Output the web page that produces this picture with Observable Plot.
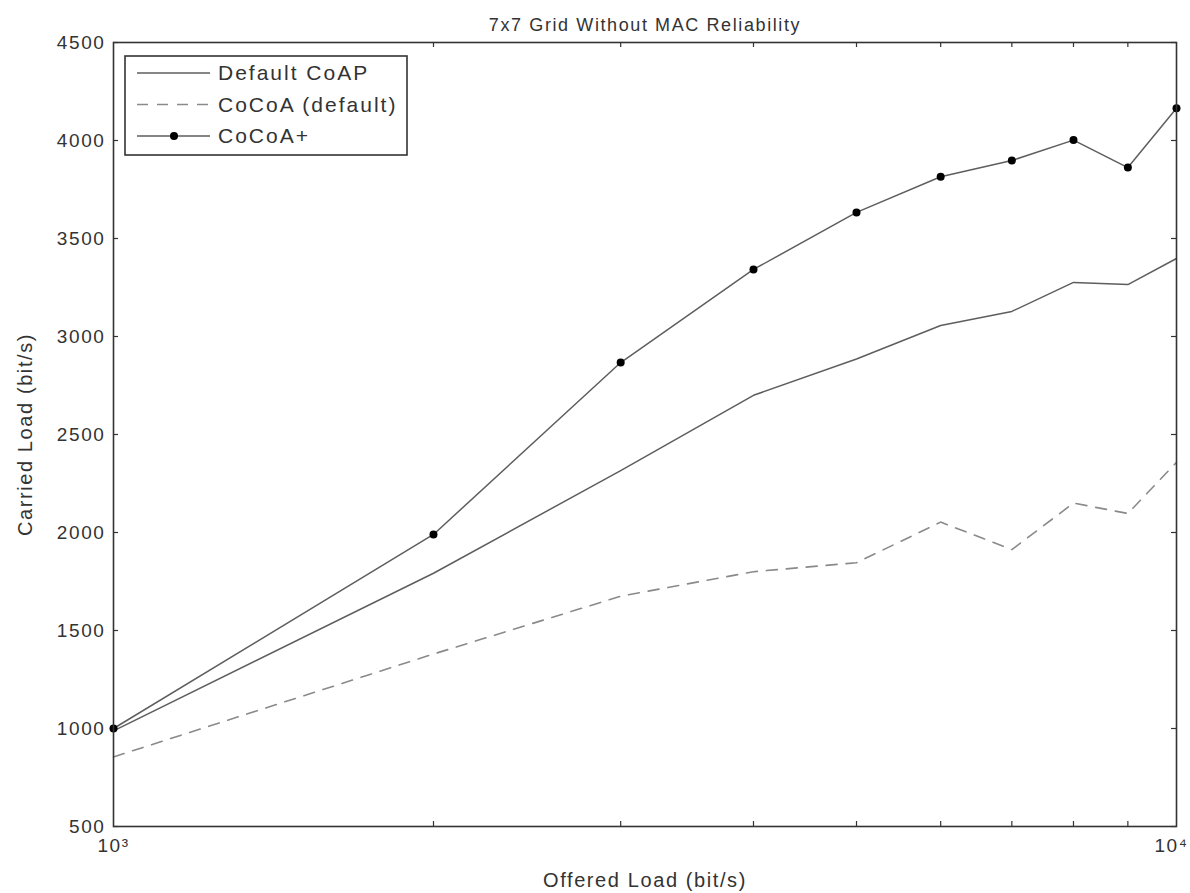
<!DOCTYPE html>
<html>
<head>
<meta charset="utf-8">
<script src="https://cdn.jsdelivr.net/npm/d3@7"></script>
<script src="https://cdn.jsdelivr.net/npm/@observablehq/plot@0.6"></script>
<style>
  html, body { margin: 0; padding: 0; background: #fff; }
  #chart svg { display: block; font-family: "Liberation Sans", Arial, sans-serif; }
  #chart svg text { letter-spacing: 1.6px; }
</style>
</head>
<body>
<div id="chart"></div>
<script>
// ---- data ----
const title = "7x7 Grid Without MAC Reliability";
const xLabel = "Offered Load (bit/s)";
const yLabel = "Carried Load (bit/s)";
const seriesNames = ["Default CoAP", "CoCoA (default)", "CoCoA+"];
const offered = [1000, 2000, 3000, 4000, 5000, 6000, 7000, 8000, 9000, 10000];
const defaultCoap = [988, 1792, 2316, 2700, 2885, 3056, 3128, 3276, 3265, 3398];
const cocoaDefault = [855, 1380, 1675, 1800, 1846, 2053, 1913, 2150, 2097, 2358];
const cocoaPlus = [1000, 1990, 2867, 3342, 3633, 3815, 3898, 4002, 3862, 4165];
const yTicks = [500, 1000, 1500, 2000, 2500, 3000, 3500, 4000, 4500];
const xMajorTicks = [1000, 10000];
const xMajorLabels = ["10\u00B3", "10\u2074"];
const xMinorTicks = [2000, 3000, 4000, 5000, 6000, 7000, 8000, 9000];

// ---- layout ----
const W = 1190, H = 893;
const mL = 113, mR = 14, mT = 42, mB = 67;
const pw = W - mL - mR, ph = H - mT - mB;
const tickLen = 5;

const rows = (vals, name) => offered.map((x, i) => ({x, y: vals[i], series: name}));
const dCoap = rows(defaultCoap, seriesNames[0]);
const dCocoa = rows(cocoaDefault, seriesNames[1]);
const dPlus = rows(cocoaPlus, seriesNames[2]);

const lineGray = "#5e5e5e";
const dashGray = "#8a8a8a";
const textGray = "#333";

const plot = Plot.plot({
  width: W, height: H,
  marginLeft: mL, marginRight: mR, marginTop: mT, marginBottom: mB,
  x: {type: "log", domain: [1000, 10000], label: null},
  y: {domain: [500, 4500], label: null},
  marks: [
    // inward ticks (bottom/top on x, left/right on y)
    Plot.tickX(xMinorTicks, {x: d => d, insetTop: ph - tickLen, stroke: "#333", strokeWidth: 1.2}),
    Plot.tickX(xMinorTicks, {x: d => d, insetBottom: ph - tickLen, stroke: "#333", strokeWidth: 1.2}),
    Plot.tickY(yTicks, {y: d => d, insetRight: pw - tickLen, stroke: "#333", strokeWidth: 1.2}),
    Plot.tickY(yTicks, {y: d => d, insetLeft: pw - tickLen, stroke: "#333", strokeWidth: 1.2}),
    // data
    Plot.line(dCocoa, {x: "x", y: "y", stroke: dashGray, strokeWidth: 1.6, strokeDasharray: "11,9"}),
    Plot.line(dCoap, {x: "x", y: "y", stroke: lineGray, strokeWidth: 1.5}),
    Plot.line(dPlus, {x: "x", y: "y", stroke: lineGray, strokeWidth: 1.5}),
    Plot.dot(dPlus, {x: "x", y: "y", r: 4, fill: "#000", stroke: "none"}),
    // frame
    Plot.frame({stroke: "#333", strokeWidth: 1.6}),
    // axes labels
    Plot.axisY({ticks: yTicks, tickSize: 0, tickPadding: 8, tickFormat: d => String(d), fontSize: 19, fill: textGray, label: null}),
    Plot.axisX({ticks: [xMajorTicks[0]], tickSize: 0, tickPadding: 12, tickFormat: d => xMajorLabels[xMajorTicks.indexOf(d)], fontSize: 19, fill: textGray, label: null}),
    Plot.axisX({ticks: [xMajorTicks[1]], tickSize: 0, tickPadding: 12, dx: -5, tickFormat: d => xMajorLabels[xMajorTicks.indexOf(d)], fontSize: 19, fill: textGray, label: null}),
    Plot.text([title], {frameAnchor: "top", dy: -24, text: d => d, fontSize: 18, fill: textGray}),
    Plot.text([xLabel], {frameAnchor: "bottom", dy: 60, text: d => d, fontSize: 20, fill: textGray}),
    Plot.text([yLabel], {frameAnchor: "left", textAnchor: "middle", dx: -88, rotate: -90, text: d => d, fontSize: 20, fill: textGray})
  ]
});

document.getElementById("chart").appendChild(plot);

// ---- legend (drawn into the same svg) ----
const svg = d3.select(plot);
const lg = svg.append("g").attr("class", "legend");
const lx = mL + 12, ly = mT + 14, lw = 282, lh = 99;
lg.append("rect").attr("x", lx).attr("y", ly).attr("width", lw).attr("height", lh)
  .attr("fill", "#fff").attr("stroke", "#333").attr("stroke-width", 1.6);
const styles = [
  {stroke: lineGray, dash: null, dot: false},
  {stroke: dashGray, dash: "11,9", dot: false},
  {stroke: lineGray, dash: null, dot: true}
];
seriesNames.forEach((name, i) => {
  const cy = ly + 17 + i * 31.5;
  lg.append("line").attr("x1", lx + 12).attr("x2", lx + 85).attr("y1", cy).attr("y2", cy)
    .attr("stroke", styles[i].stroke).attr("stroke-width", 1.5)
    .attr("stroke-dasharray", styles[i].dash);
  if (styles[i].dot) lg.append("circle").attr("cx", lx + 49).attr("cy", cy).attr("r", 4).attr("fill", "#000");
  lg.append("text").attr("x", lx + 93).attr("y", cy).attr("dy", "0.35em")
    .attr("text-anchor", "start")
    .attr("font-size", 21).attr("fill", textGray).style("letter-spacing", "2px").text(name);
});
</script>
</body>
</html>
